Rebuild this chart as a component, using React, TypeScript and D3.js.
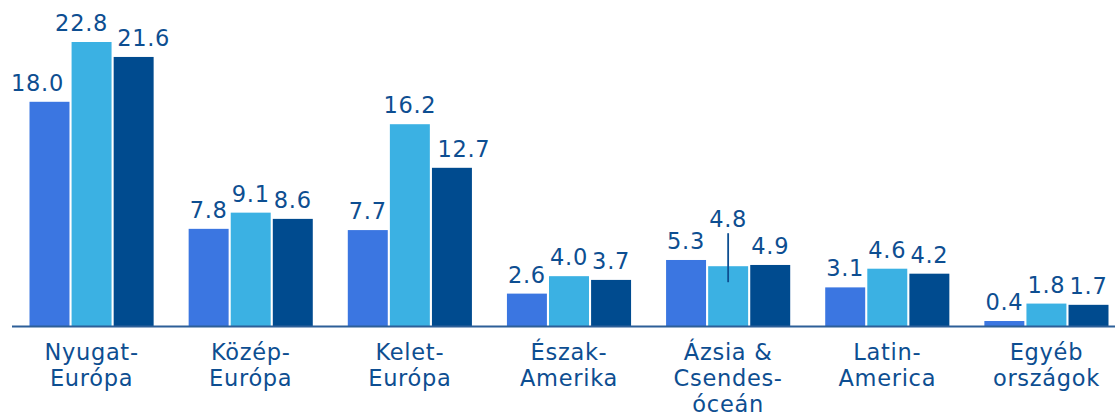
import * as d3 from 'd3'
import React from 'react'

// data
const categories = [
  ['Nyugat-', 'Európa'],
  ['Közép-', 'Európa'],
  ['Kelet-', 'Európa'],
  ['Észak-', 'Amerika'],
  ['Ázsia &', 'Csendes-', 'óceán'],
  ['Latin-', 'America'],
  ['Egyéb', 'országok'],
]
const series1 = [18.0, 7.8, 7.7, 2.6, 5.3, 3.1, 0.4]
const series2 = [22.8, 9.1, 16.2, 4.0, 4.8, 4.6, 1.8]
const series3 = [21.6, 8.6, 12.7, 3.7, 4.9, 4.2, 1.7]

const colors = ['#3b76e1', '#3bb1e3', '#004b8f']
const textColor = '#0d4e91'

// label nudges where the original moved labels apart
const labelShift: Record<string, number> = { '0-0': -12, '0-1': -10, '0-2': 10, '2-2': 12 }
const callouts: Record<string, number> = { '4-1': 28 }

const W = 1115
const H = 419
const baseY = 326

const App = () => {
  const seriesList = [series1, series2, series3]
  const groupIdx = categories.map((_, i) => String(i))

  const x0 = d3.scaleBand()
    .domain(groupIdx)
    .range([12, 1126])
    .paddingInner(0.22)
    .paddingOuter(0.11)
  const x1 = d3.scaleBand()
    .domain(['0', '1', '2'])
    .range([0, x0.bandwidth()])
    .paddingInner(0.05)
  const y = d3.scaleLinear()
    .domain([0, 22.8])
    .range([baseY, 42])

  return (
    <svg width={W} height={H} style={{ position: 'absolute', left: 0, top: 0, fontFamily: 'Verdana, "DejaVu Sans", sans-serif', letterSpacing: '0.7px' }}>
      {groupIdx.map(g => {
        const gi = +g
        return (
          <g key={g} transform={`translate(${x0(g)},0)`}>
            {seriesList.map((s, si) => {
              const bx = x1(String(si))!
              const bw = x1.bandwidth()
              const v = s[gi]
              const top = y(v)
              const key = `${gi}-${si}`
              const lift = callouts[key] || 0
              const cx = bx + bw / 2
              return (
                <g key={si}>
                  <rect x={bx} y={top} width={bw} height={baseY - top} fill={colors[si]} />
                  {lift > 0 && (
                    <line x1={cx} x2={cx} y1={top - lift - 5} y2={top + 16} stroke={textColor} strokeWidth={1.8} />
                  )}
                  <text
                    x={cx + (labelShift[key] || 0)}
                    y={top - 11 - lift}
                    textAnchor='middle'
                    fontSize={22.5}
                    fill={textColor}
                  >{v.toFixed(1)}</text>
                </g>
              )
            })}
            <text x={x0.bandwidth() / 2} y={360} textAnchor='middle' fontSize={22.5} fill={textColor}>
              {categories[gi].map((line, li) => (
                <tspan key={li} x={x0.bandwidth() / 2} dy={li === 0 ? 0 : 26}>{line}</tspan>
              ))}
            </text>
          </g>
        )
      })}
      <line x1={12} x2={W} y1={baseY + 0.5} y2={baseY + 0.5} stroke='#2d5f98' strokeWidth={2} />
    </svg>
  )
}

export default App
